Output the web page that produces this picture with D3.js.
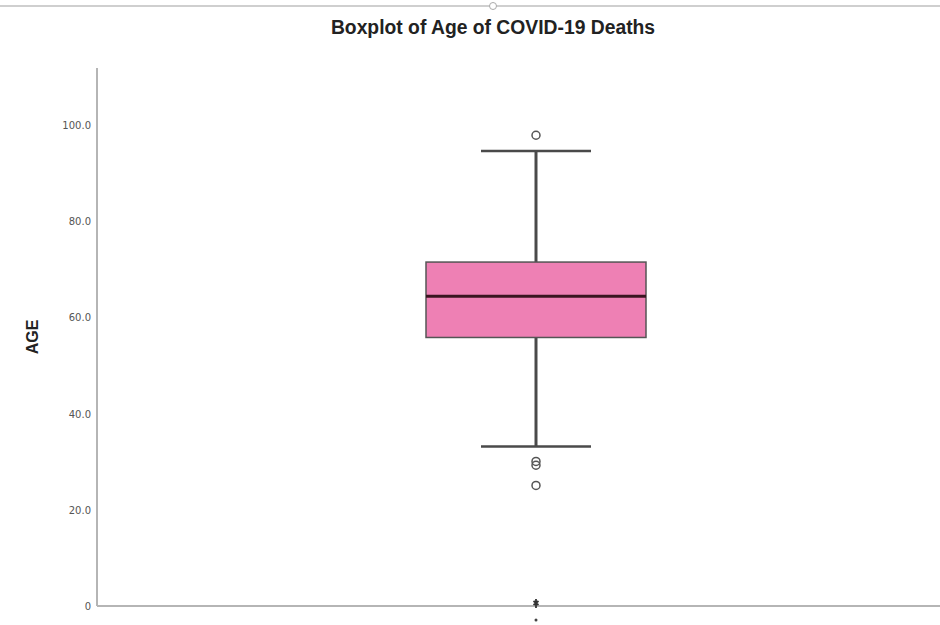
<!DOCTYPE html>
<html>
<head>
<meta charset="utf-8">
<script src="https://cdn.jsdelivr.net/npm/d3@7"></script>
<style>
  body { margin: 0; background: #fff; }
  svg { display: block; }
</style>
</head>
<body>
<svg id="chart" width="940" height="625"></svg>
<script>
var svg = d3.select('svg#chart');

// values
var categories = ["AGE"];
var quartiles = [55.9, 64.5, 71.6];   // q1, median, q3
var whiskers = [33.2, 94.7];          // low, high
var outliers = [98.0, 30.1, 29.3, 25.1];
var extremes = [0];
var tick_values = [0, 20, 40, 60, 80, 100];

var plot_left = 97, plot_right = 940, plot_top = 68, plot_bottom = 606;

var y = d3.scaleLinear().domain([0, 112]).range([plot_bottom, plot_top]);
var x = d3.scaleBand().domain(categories).range([316, 756]).paddingInner(0).paddingOuter(0.5);

// top handle line
svg.append('line').attr('x1', 0).attr('x2', 940).attr('y1', 6).attr('y2', 6)
  .style('stroke', '#cfcfcf').style('stroke-width', '2px');
svg.append('circle').attr('cx', 493).attr('cy', 6).attr('r', 3.5)
  .style('fill', '#fff').style('stroke', '#aaa').style('stroke-width', '1px');

// title
svg.append('text').attr('transform', 'translate(493,34) scale(0.92,1)').attr('text-anchor', 'middle')
  .style('font-family', 'Liberation Sans, Arial, sans-serif')
  .style('font-weight', 'bold').style('font-size', '21px').style('fill', '#222')
  .text('Boxplot of Age of COVID-19 Deaths');

// y axis
var yAxis = d3.axisLeft(y).tickValues(tick_values).tickSize(0).tickPadding(6)
  .tickFormat(function(d){ return d === 0 ? "0" : d.toFixed(1); });
var gy = svg.append('g').attr('transform', 'translate(' + plot_left + ',0)').call(yAxis);
gy.select('.domain').remove();
gy.selectAll('text').style('font-family', 'DejaVu Sans, sans-serif')
  .style('font-size', '10px').style('fill', '#555');

svg.append('line').attr('x1', plot_left).attr('x2', plot_left).attr('y1', plot_top).attr('y2', plot_bottom)
  .style('stroke', '#b5b5b5').style('stroke-width', '2px');
svg.append('line').attr('x1', plot_left).attr('x2', plot_right).attr('y1', plot_bottom).attr('y2', plot_bottom)
  .style('stroke', '#b5b5b5').style('stroke-width', '2px');

// y axis title
svg.append('text').attr('transform', 'translate(38,' + ((plot_top + plot_bottom) / 2) + ') rotate(-90)')
  .attr('text-anchor', 'middle')
  .style('font-family', 'Liberation Sans, Arial, sans-serif')
  .style('font-weight', 'bold').style('font-size', '16px').style('fill', '#222')
  .text(categories[0]);

// box
var bx = x(categories[0]), bw = x.bandwidth(), cx = bx + bw / 2;
var cap = bw / 2;

svg.append('line').attr('x1', cx).attr('x2', cx).attr('y1', y(whiskers[1])).attr('y2', y(quartiles[2]))
  .style('stroke', '#4a4a4a').style('stroke-width', '3px');
svg.append('line').attr('x1', cx).attr('x2', cx).attr('y1', y(quartiles[0])).attr('y2', y(whiskers[0]))
  .style('stroke', '#4a4a4a').style('stroke-width', '3px');

whiskers.forEach(function(w){
  svg.append('line').attr('x1', cx - cap / 2).attr('x2', cx + cap / 2).attr('y1', y(w)).attr('y2', y(w))
    .style('stroke', '#4a4a4a').style('stroke-width', '2.5px');
});

svg.append('rect').attr('x', bx).attr('width', bw)
  .attr('y', y(quartiles[2])).attr('height', y(quartiles[0]) - y(quartiles[2]))
  .style('fill', '#ee80b4').style('stroke', '#555').style('stroke-width', '1.5px');

svg.append('line').attr('x1', bx).attr('x2', bx + bw).attr('y1', y(quartiles[1])).attr('y2', y(quartiles[1]))
  .style('stroke', '#3a1420').style('stroke-width', '3px');

// outliers
svg.selectAll('circle.out').data(outliers).enter().append('circle')
  .attr('class', 'out').attr('cx', cx).attr('cy', function(d){ return y(d); }).attr('r', 4)
  .style('fill', 'none').style('stroke', '#555').style('stroke-width', '1.5px');

// extremes (SPSS asterisks, stacked)
extremes.forEach(function(d){
  svg.append('path').attr('d', 'M0,-7L0,2M-2.5,-5L2.5,-1M2.5,-5L-2.5,-1')
    .attr('transform', 'translate(' + cx + ',' + y(d) + ')')
    .style('stroke', '#333').style('stroke-width', '1.8px');
  svg.append('circle').attr('cx', cx).attr('cy', y(d) + 14).attr('r', 1.5).style('fill', '#444');
});
</script>
</body>
</html>
